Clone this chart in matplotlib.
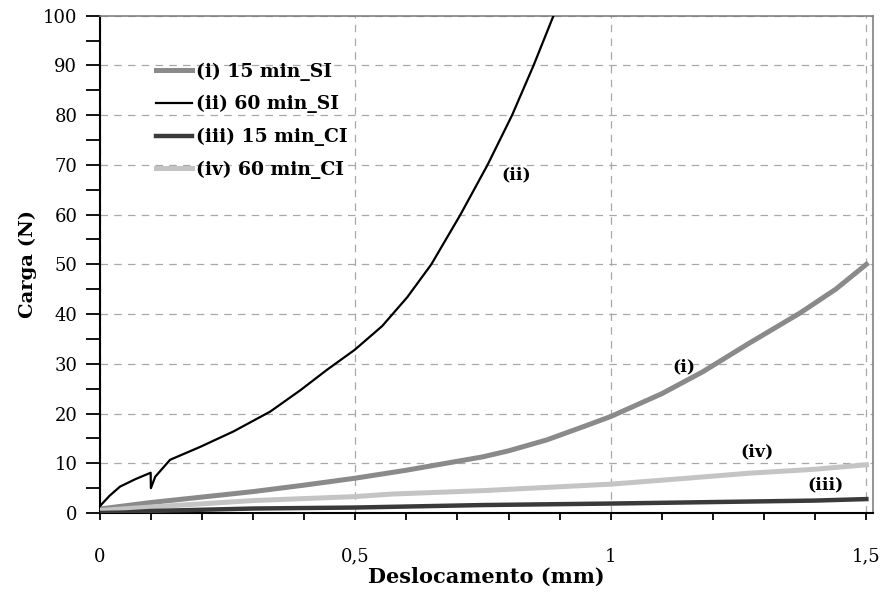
import matplotlib
matplotlib.use('Agg')
import matplotlib.pyplot as plt
from matplotlib.ticker import MultipleLocator, FixedLocator

# load-displacement curves (mm, N)
x_i   = [0, 0.1, 0.2, 0.3, 0.4, 0.5, 0.6, 0.7, 0.75, 0.8, 0.875, 0.95, 1.0, 1.1, 1.18, 1.27, 1.37, 1.44, 1.5]
y_i   = [0.8, 2.1, 3.2, 4.3, 5.6, 7.0, 8.6, 10.4, 11.3, 12.5, 14.7, 17.5, 19.4, 24.0, 28.4, 34.1, 40.2, 45.0, 50.0]

x_ii  = [0, 0.02, 0.04, 0.07, 0.1, 0.1005, 0.109, 0.138, 0.197, 0.262, 0.334, 0.393, 0.445,
         0.499, 0.553, 0.602, 0.649, 0.706, 0.759, 0.807, 0.849, 0.888]
y_ii  = [1.3, 3.5, 5.3, 6.8, 8.1, 5.0, 7.3, 10.7, 13.3, 16.4, 20.4, 24.7, 28.8,
         32.8, 37.6, 43.4, 50.0, 60.0, 70.0, 80.0, 90.0, 100.0]

x_iii = [0, 0.05, 0.1, 0.3, 0.5, 0.75, 1.0, 1.2, 1.4, 1.5]
y_iii = [0.0, 0.1, 0.4, 0.9, 1.1, 1.6, 1.9, 2.2, 2.5, 2.8]

x_iv  = [0, 0.1, 0.3, 0.5, 0.57, 0.75, 1.0, 1.15, 1.27, 1.4, 1.5]
y_iv  = [0.5, 1.2, 2.5, 3.3, 3.8, 4.5, 5.8, 7.0, 8.0, 8.8, 9.7]

labels = ['(i) 15 min_SI', '(ii) 60 min_SI', '(iii) 15 min_CI', '(iv) 60 min_CI']
x_ticks = [0, 0.5, 1.0, 1.5]
x_ticklabels = ['0', '0,5', '1', '1,5']

SERIF = ['DejaVu Serif']

fig = plt.figure(figsize=(8.83, 5.93), dpi=100)
ax = fig.add_axes([0.1127, 0.1349, 0.876, 0.8386])

ax.plot(x_i, y_i, color='#8a8a8a', lw=3.6, label=labels[0], zorder=3)
ax.plot(x_ii, y_ii, color='black', lw=1.6, label=labels[1], zorder=5)
ax.plot(x_iii, y_iii, color='#3a3a3a', lw=3.2, label=labels[2], zorder=4)
ax.plot(x_iv, y_iv, color='#c4c4c4', lw=3.6, label=labels[3], zorder=3)

ax.set_xlim(0, 1.513)
ax.set_ylim(0, 100)

ax.xaxis.set_major_locator(FixedLocator(x_ticks))
ax.set_xticklabels(x_ticklabels)
ax.xaxis.set_minor_locator(MultipleLocator(0.1))
ax.yaxis.set_major_locator(MultipleLocator(10))
ax.yaxis.set_minor_locator(MultipleLocator(5))

ax.grid(True, which='major', color='#a8a8a8', ls=(0, (6, 5)), lw=0.9, zorder=0)

ax.tick_params(axis='x', which='both', direction='out', length=5, width=1.3, pad=20,
               labelsize=13, top=False)
ax.tick_params(axis='y', which='both', direction='out', length=10, width=1.3, pad=6,
               labelsize=13, right=False)
for lab in ax.get_xticklabels() + ax.get_yticklabels():
    lab.set_family(SERIF)

for s in ['left', 'bottom']:
    ax.spines[s].set_color('black')
    ax.spines[s].set_linewidth(1.5)
for s in ['top', 'right']:
    ax.spines[s].set_color('#808080')
    ax.spines[s].set_linewidth(1.2)

ax.set_xlabel('Deslocamento (mm)', family=SERIF, fontweight='bold', fontsize=15, labelpad=1)
ax.set_ylabel('Carga (N)', family=SERIF, fontweight='bold', fontsize=14, labelpad=4)

leg = ax.legend(loc='upper left', bbox_to_anchor=(0.0635, 0.921), frameon=False,
                prop={'family': SERIF, 'weight': 'bold', 'size': 13.5},
                handlelength=1.9, handletextpad=0.25, labelspacing=0.77, borderaxespad=0)

# curve tags
tag = dict(family=SERIF, fontweight='bold', fontsize=12.5, ha='center', va='center')
ax.text(0.815, 68.0, '(ii)', **tag)
ax.text(1.143, 29.4, '(i)', **tag)
ax.text(1.286, 12.2, '(iv)', **tag)
ax.text(1.421, 5.7, '(iii)', **tag)

fig.savefig('out.png', dpi=100)
